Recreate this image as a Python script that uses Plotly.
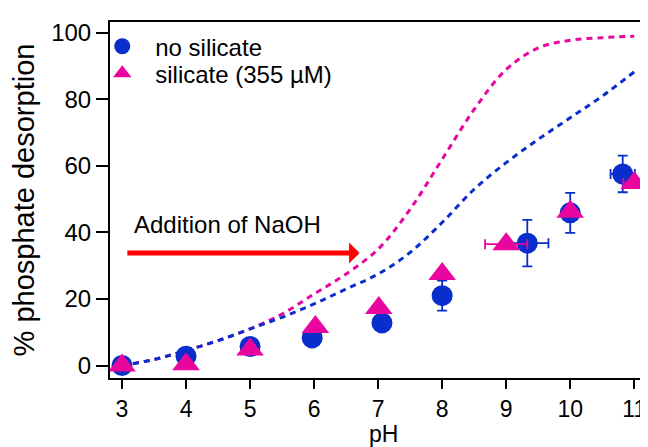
import plotly.graph_objects as go

# ---- data ----
no_si_ph = [3, 4, 5, 5.97, 7.06, 8, 9.33, 10, 10.82]
no_si_val = [0, 2.8, 5.7, 8.3, 12.8, 21, 36.8, 45.9, 57.6]
no_si_yerr = [0, 0, 0, 0, 0, 4.5, 7, 6, 5.5]
no_si_xerr = [0, 0, 0, 0, 0, 0, 0.33, 0, 0.19]

si_ph = [3, 4, 5, 6.02, 7.01, 8, 9, 10, 11]
si_val = [0, 0.4, 4.8, 11.6, 17.3, 27.5, 36.5, 46.2, 54.9]
si_xerr = [0, 0, 0, 0, 0, 0, 0.33, 0, 0.17]

curve_ph = [3, 3.5, 4, 4.5, 5, 5.5, 6, 6.5, 7, 7.5, 8, 8.5, 9, 9.5, 10, 10.5, 11]
curve_si = [0, 1.8, 4.5, 7.5, 11, 15.5, 21.5, 27.5, 35, 47, 62, 77, 89, 95.5, 97.8, 98.6, 99]
curve_no_si = [0, 1.8, 4.5, 7.5, 11, 14.5, 18.5, 23, 27.5, 34, 43, 53, 61, 68, 74.5, 81, 88.3]

x_ticks = [3, 4, 5, 6, 7, 8, 9, 10, 11]
y_ticks = [0, 20, 40, 60, 80, 100]

BLUE = "#0a2ecc"
PINK = "#e8069e"
FONT = "Liberation Sans, Arial, sans-serif"

fig = go.Figure()

fig.add_trace(go.Scatter(x=curve_ph, y=curve_si, mode="lines", showlegend=False,
                         line=dict(color=PINK, width=3, dash="6px,5px", shape="spline")))
fig.add_trace(go.Scatter(x=curve_ph, y=curve_no_si, mode="lines", showlegend=False,
                         line=dict(color=BLUE, width=3, dash="6px,5px", shape="spline")))

fig.add_trace(go.Scatter(
    x=no_si_ph, y=no_si_val, mode="markers", name="no silicate", legend="legend",
    marker=dict(symbol="circle", size=21, color=BLUE, line=dict(width=0)),
    error_y=dict(type="data", array=no_si_yerr, color=BLUE, thickness=1.8, width=5),
    error_x=dict(type="data", array=no_si_xerr, color=BLUE, thickness=1.8, width=5),
))
fig.add_trace(go.Scatter(
    x=si_ph, y=si_val, mode="markers", name="silicate (355 µM)", legend="legend2",
    marker=dict(symbol="triangle-up", size=24, color=PINK, line=dict(width=0)),
    error_x=dict(type="data", array=si_xerr, color=PINK, thickness=1.8, width=5),
))

fig.add_annotation(x=6.71, y=33.8, ax=3.06, ay=33.8, xref="x", yref="y", axref="x", ayref="y",
                   text="", showarrow=True, arrowhead=1, arrowsize=0.7, arrowwidth=5,
                   arrowcolor="#ff0000", standoff=0)
fig.add_annotation(x=4.64, y=42.3, xref="x", yref="y", text="Addition of NaOH",
                   showarrow=False, font=dict(family=FONT, size=24, color="black"))
# x-axis title
fig.add_annotation(x=0.5, y=0, xref="paper", yref="paper", xanchor="center", yanchor="top",
                   yshift=-42, text="pH", showarrow=False, borderpad=0,
                   font=dict(family=FONT, size=23, color="black"))

leg_common = dict(xanchor="left", yanchor="top", bgcolor="rgba(0,0,0,0)",
                  font=dict(family=FONT, size=24), itemsizing="trace", itemwidth=56)

fig.update_layout(
    width=648, height=447,
    margin=dict(l=102, r=0, t=14, b=77),
    paper_bgcolor="white", plot_bgcolor="white",
    font=dict(family=FONT, size=24, color="black"),
    legend=dict(x=-0.038, y=0.994, **leg_common),
    legend2=dict(x=-0.038, y=0.918, **leg_common),
    xaxis=dict(range=[2.8125, 11.34], tickvals=x_ticks, ticktext=[str(v) for v in x_ticks],
               showgrid=False, zeroline=False, showline=True, linecolor="black", linewidth=2,
               mirror=True, ticks="outside", ticklen=9, tickwidth=2, tickcolor="black",
               tickfont=dict(size=23)),
    yaxis=dict(range=[-3.76, 103.3], tickvals=y_ticks, ticktext=[str(v) for v in y_ticks],
               showgrid=False, zeroline=False, showline=True, linecolor="black", linewidth=2,
               mirror=False, ticks="outside", ticklen=12, tickwidth=2, tickcolor="black",
               title=dict(text="% phosphate desorption", standoff=14), tickfont=dict(size=24)),
)

fig.write_html("out.html")
